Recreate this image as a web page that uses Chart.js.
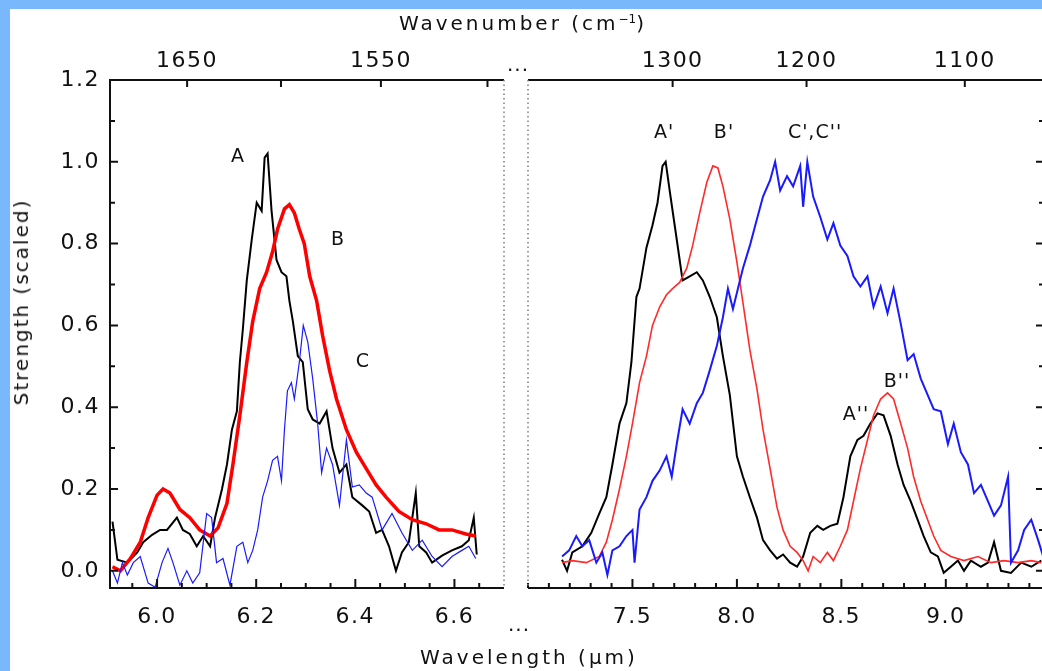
<!DOCTYPE html>
<html>
<head>
<meta charset="utf-8">
<script src="https://cdn.jsdelivr.net/npm/chart.js@4.4.1/dist/chart.umd.min.js"></script>
<style>
  html, body { margin: 0; padding: 0; }
  body {
    width: 1042px; height: 671px; overflow: hidden; position: relative;
    background: #fff; font-family: 'DejaVu Sans', sans-serif; color: #111;
  }
  canvas { position: absolute; top: 0; }
  #leftChart { left: 0; }
  #rightChart { left: 516px; }
  .band { position: absolute; background: #79b9fb; z-index: 5; }
  .txt {
    position: absolute; white-space: nowrap; line-height: 1;
    transform: translate(-50%, -50%); z-index: 4;
  }
  .title { font-size: 20px; letter-spacing: 3px; }
  .peak { font-size: 19px; letter-spacing: 1px; }
  .dots { font-size: 20px; letter-spacing: 1px; }
  sup { font-size: 12px; letter-spacing: 0; }
</style>
</head>
<body>
<canvas id="leftChart" width="516" height="671"></canvas>
<canvas id="rightChart" width="540" height="671"></canvas>

<div class="band" style="left:0;top:0;width:1042px;height:9px"></div>
<div class="band" style="left:0;top:0;width:10px;height:671px"></div>

<div class="txt title" style="left:523px;top:23px">Wavenumber (cm<sup>−1</sup>)</div>
<div class="txt title" style="left:529px;top:657px">Wavelength (μm)</div>
<div class="txt title" style="left:21px;top:302px;letter-spacing:2px;transform:translate(-50%,-50%) rotate(-90deg)">Strength (scaled)</div>
<div class="txt dots" style="left:518px;top:64px">...</div>
<div class="txt dots" style="left:519px;top:624px">...</div>

<div class="txt peak" style="left:238px;top:155px">A</div>
<div class="txt peak" style="left:338px;top:238px">B</div>
<div class="txt peak" style="left:363px;top:360px">C</div>
<div class="txt peak" style="left:664px;top:131px">A'</div>
<div class="txt peak" style="left:724px;top:131px">B'</div>
<div class="txt peak" style="left:815px;top:131px">C',C''</div>
<div class="txt peak" style="left:856px;top:413px">A''</div>
<div class="txt peak" style="left:897px;top:380px">B''</div>

<script>
// tick values
const strengthTicks = [0.0, 0.2, 0.4, 0.6, 0.8, 1.0, 1.2];
const leftWaveTicks = [6.0, 6.2, 6.4, 6.6];
const rightWaveTicks = [7.5, 8.0, 8.5, 9.0];
const leftWavenumbers = [1650, 1600, 1550, 1500];
const leftWavenumberLabels = [1650, 1550];
const rightWavenumbers = [1300, 1200, 1100];
const rightWavenumberLabels = [1300, 1200, 1100];

// [wavelength (um), strength]
const bandA = [
  [5.910, 0.12], [5.920, 0.027], [5.940, 0.02], [5.960, 0.045], [5.972, 0.07], [5.990, 0.088],
  [6.006, 0.10], [6.020, 0.10], [6.040, 0.13], [6.052, 0.10], [6.066, 0.09], [6.080, 0.06],
  [6.093, 0.085], [6.107, 0.06], [6.117, 0.13], [6.131, 0.20], [6.141, 0.26], [6.151, 0.345],
  [6.161, 0.39], [6.167, 0.51], [6.173, 0.59], [6.181, 0.71], [6.191, 0.81], [6.201, 0.90],
  [6.211, 0.88], [6.217, 1.01], [6.223, 1.02], [6.231, 0.88], [6.241, 0.76], [6.251, 0.73],
  [6.261, 0.72], [6.267, 0.66], [6.274, 0.61], [6.284, 0.525], [6.294, 0.51], [6.304, 0.395],
  [6.314, 0.37], [6.328, 0.36], [6.342, 0.39], [6.354, 0.30], [6.368, 0.24], [6.382, 0.26],
  [6.394, 0.18], [6.414, 0.16], [6.428, 0.145], [6.442, 0.093], [6.454, 0.10], [6.468, 0.06],
  [6.482, 0.0], [6.494, 0.045], [6.508, 0.07], [6.522, 0.19], [6.529, 0.06], [6.543, 0.045],
  [6.555, 0.02], [6.575, 0.037], [6.595, 0.05], [6.615, 0.06], [6.629, 0.075], [6.639, 0.13],
  [6.645, 0.04]
];
const bandB = [
  [5.910, 0.01], [5.926, 0.0], [5.946, 0.03], [5.966, 0.07], [5.982, 0.13], [6.000, 0.185],
  [6.012, 0.20], [6.026, 0.19], [6.046, 0.15], [6.066, 0.13], [6.086, 0.10], [6.107, 0.085],
  [6.123, 0.105], [6.141, 0.165], [6.153, 0.26], [6.167, 0.38], [6.181, 0.51], [6.193, 0.61],
  [6.207, 0.69], [6.221, 0.73], [6.233, 0.78], [6.243, 0.835], [6.257, 0.885], [6.267, 0.895],
  [6.277, 0.875], [6.287, 0.835], [6.297, 0.80], [6.308, 0.72], [6.322, 0.66], [6.334, 0.575],
  [6.348, 0.49], [6.362, 0.42], [6.382, 0.345], [6.402, 0.29], [6.422, 0.25], [6.442, 0.21],
  [6.462, 0.18], [6.488, 0.145], [6.515, 0.125], [6.543, 0.115], [6.569, 0.10], [6.595, 0.10],
  [6.623, 0.09], [6.643, 0.085]
];
const bandC = [
  [5.910, 0.0], [5.920, -0.03], [5.930, 0.02], [5.940, -0.01], [5.952, 0.02], [5.966, 0.035],
  [5.982, -0.03], [5.996, -0.04], [6.010, 0.02], [6.022, 0.055], [6.032, 0.02], [6.046, -0.035],
  [6.060, 0.0], [6.072, -0.03], [6.086, -0.005], [6.100, 0.14], [6.110, 0.13], [6.120, 0.02],
  [6.133, 0.03], [6.147, -0.035], [6.161, 0.06], [6.173, 0.07], [6.183, 0.02], [6.193, 0.05],
  [6.203, 0.10], [6.213, 0.18], [6.223, 0.22], [6.233, 0.27], [6.243, 0.28], [6.251, 0.22],
  [6.257, 0.345], [6.263, 0.44], [6.271, 0.46], [6.277, 0.42], [6.287, 0.51], [6.295, 0.60],
  [6.304, 0.56], [6.314, 0.47], [6.324, 0.36], [6.332, 0.24], [6.342, 0.30], [6.354, 0.26],
  [6.368, 0.16], [6.382, 0.32], [6.394, 0.205], [6.408, 0.21], [6.422, 0.19], [6.434, 0.18],
  [6.454, 0.10], [6.474, 0.14], [6.494, 0.093], [6.515, 0.05], [6.535, 0.075], [6.555, 0.035],
  [6.575, 0.01], [6.595, 0.035], [6.615, 0.05], [6.629, 0.06], [6.643, 0.03]
];
const bandA1 = [
  [7.163, 0.027], [7.187, 0.0], [7.212, 0.045], [7.260, 0.06], [7.303, 0.093], [7.341, 0.14],
  [7.375, 0.18], [7.404, 0.26], [7.438, 0.36], [7.471, 0.41], [7.495, 0.51], [7.519, 0.67],
  [7.534, 0.69], [7.567, 0.79], [7.596, 0.845], [7.620, 0.90], [7.644, 0.99], [7.659, 1.0],
  [7.678, 0.93], [7.712, 0.81], [7.740, 0.71], [7.774, 0.72], [7.808, 0.73], [7.837, 0.71],
  [7.870, 0.67], [7.904, 0.62], [7.933, 0.525], [7.966, 0.43], [8.000, 0.28], [8.029, 0.23],
  [8.062, 0.18], [8.096, 0.13], [8.125, 0.075], [8.159, 0.05], [8.192, 0.03], [8.221, 0.04],
  [8.255, 0.02], [8.288, 0.01], [8.317, 0.035], [8.351, 0.093], [8.385, 0.11], [8.413, 0.10],
  [8.447, 0.11], [8.481, 0.115], [8.510, 0.18], [8.543, 0.28], [8.577, 0.32], [8.606, 0.33],
  [8.639, 0.36], [8.673, 0.385], [8.702, 0.38], [8.736, 0.33], [8.769, 0.26], [8.798, 0.21],
  [8.832, 0.17], [8.865, 0.125], [8.894, 0.085], [8.928, 0.045], [8.962, 0.035], [8.990, -0.005],
  [9.024, 0.01], [9.058, 0.025], [9.087, 0.0], [9.120, 0.025], [9.168, 0.01], [9.202, 0.02],
  [9.231, 0.07], [9.264, 0.0], [9.312, -0.005], [9.361, 0.02], [9.409, 0.01], [9.457, 0.025]
];
const bandB1 = [
  [7.163, 0.02], [7.212, 0.025], [7.279, 0.02], [7.341, 0.035], [7.375, 0.07], [7.404, 0.125],
  [7.438, 0.20], [7.471, 0.28], [7.500, 0.36], [7.534, 0.46], [7.567, 0.525], [7.596, 0.60],
  [7.630, 0.645], [7.663, 0.675], [7.692, 0.69], [7.726, 0.705], [7.760, 0.74], [7.788, 0.795],
  [7.822, 0.875], [7.856, 0.95], [7.885, 0.99], [7.909, 0.985], [7.933, 0.94], [7.966, 0.86],
  [8.000, 0.755], [8.029, 0.655], [8.062, 0.54], [8.096, 0.445], [8.125, 0.345], [8.159, 0.25],
  [8.192, 0.155], [8.221, 0.10], [8.255, 0.06], [8.288, 0.045], [8.317, 0.025], [8.341, 0.0],
  [8.365, 0.035], [8.399, 0.02], [8.433, 0.045], [8.462, 0.025], [8.495, 0.06], [8.529, 0.10],
  [8.558, 0.17], [8.591, 0.25], [8.625, 0.32], [8.654, 0.38], [8.688, 0.42], [8.721, 0.435],
  [8.750, 0.42], [8.784, 0.36], [8.817, 0.30], [8.846, 0.23], [8.880, 0.17], [8.913, 0.125],
  [8.942, 0.085], [8.976, 0.05], [9.024, 0.035], [9.087, 0.025], [9.154, 0.035], [9.216, 0.02],
  [9.279, 0.025], [9.346, 0.02], [9.409, 0.025], [9.457, 0.02]
];
const bandC1 = [
  [7.163, 0.035], [7.197, 0.05], [7.231, 0.085], [7.260, 0.06], [7.293, 0.075], [7.327, 0.02],
  [7.356, 0.045], [7.380, -0.01], [7.404, 0.05], [7.438, 0.06], [7.471, 0.085], [7.500, 0.10],
  [7.510, 0.02], [7.534, 0.15], [7.567, 0.18], [7.596, 0.22], [7.630, 0.245], [7.663, 0.28],
  [7.688, 0.23], [7.712, 0.31], [7.740, 0.395], [7.774, 0.36], [7.808, 0.41], [7.837, 0.435],
  [7.870, 0.49], [7.904, 0.55], [7.933, 0.62], [7.957, 0.69], [7.981, 0.64], [8.005, 0.69],
  [8.029, 0.74], [8.062, 0.795], [8.096, 0.86], [8.125, 0.915], [8.159, 0.955], [8.183, 1.0],
  [8.207, 0.93], [8.240, 0.965], [8.269, 0.94], [8.303, 0.99], [8.317, 0.89], [8.337, 1.0],
  [8.365, 0.915], [8.399, 0.865], [8.433, 0.81], [8.462, 0.85], [8.495, 0.795], [8.529, 0.77],
  [8.558, 0.72], [8.591, 0.695], [8.625, 0.72], [8.654, 0.645], [8.688, 0.695], [8.721, 0.63],
  [8.750, 0.69], [8.784, 0.605], [8.817, 0.515], [8.846, 0.53], [8.880, 0.47], [8.913, 0.43],
  [8.942, 0.395], [8.976, 0.39], [9.010, 0.31], [9.038, 0.36], [9.072, 0.29], [9.106, 0.26],
  [9.135, 0.19], [9.168, 0.21], [9.202, 0.17], [9.231, 0.135], [9.264, 0.16], [9.298, 0.23],
  [9.312, 0.02], [9.346, 0.05], [9.375, 0.10], [9.409, 0.125], [9.442, 0.075], [9.466, 0.035]
];

Chart.defaults.font.family = "'DejaVu Sans', sans-serif";
Chart.defaults.font.size = 22;
Chart.defaults.color = '#111';

const toPoints = arr => arr.map(p => ({ x: p[0], y: p[1] }));

// IDL-style frame: inward tick marks, dotted side where the axis is broken
const framePlugin = {
  id: 'frame',
  beforeDraw(chart) {
    chart.ctx.letterSpacing = '1.5px';
  },
  afterDraw(chart, args, opts) {
    const ctx = chart.ctx;
    const a = chart.chartArea;
    const xs = chart.scales.x;
    const ys = chart.scales.y;
    const line = (x1, y1, x2, y2) => { ctx.moveTo(x1, y1); ctx.lineTo(x2, y2); };

    ctx.save();
    ctx.strokeStyle = '#111';
    ctx.lineWidth = 2;
    ctx.beginPath();
    line(a.left, a.top, a.right, a.top);
    line(a.left, a.bottom, a.right, a.bottom);
    if (!opts.dottedLeft) line(a.left, a.top - 1, a.left, a.bottom + 1);
    if (!opts.dottedRight) line(a.right, a.top - 1, a.right, a.bottom + 1);

    // bottom ticks
    opts.majorX.forEach(v => {
      const px = xs.getPixelForValue(v);
      line(px, a.bottom, px, a.bottom - 9);
    });
    for (let v = xs.min; v <= xs.max; v += opts.minorX) {
      const m = Math.round(v / opts.minorX) * opts.minorX;
      if (m < xs.min || m > xs.max) continue;
      const px = xs.getPixelForValue(m);
      line(px, a.bottom, px, a.bottom - 5);
    }
    // top ticks (wavenumber)
    opts.topMarks.forEach(n => {
      const px = xs.getPixelForValue(10000 / n);
      line(px, a.top, px, a.top + 7);
    });
    // strength ticks
    const sx = opts.ySide === 'left' ? a.left : a.right;
    const dir = opts.ySide === 'left' ? 1 : -1;
    for (let k = 0; k <= 12; k++) {
      const py = ys.getPixelForValue(k / 10);
      line(sx, py, sx + dir * (k % 2 === 0 ? 8 : 5), py);
    }
    ctx.stroke();

    // dotted break lines
    ctx.beginPath();
    ctx.strokeStyle = '#808080';
    ctx.lineWidth = 1.5;
    ctx.setLineDash([1.5, 3]);
    if (opts.dottedLeft) line(a.left, a.top, a.left, a.bottom);
    if (opts.dottedRight) line(a.right, a.top, a.right, a.bottom);
    ctx.stroke();
    ctx.restore();
  }
};

function panelOptions(cfg) {
  return {
    responsive: false,
    animation: false,
    events: [],
    elements: { point: { radius: 0 }, line: { tension: 0 } },
    layout: { padding: cfg.padding },
    plugins: {
      legend: { display: false },
      tooltip: { enabled: false },
      frame: cfg.frame
    },
    scales: {
      x: {
        type: 'linear',
        position: 'bottom',
        min: cfg.min,
        max: cfg.max,
        grid: { display: false, drawTicks: false },
        border: { display: false },
        ticks: { padding: 16, maxRotation: 0, minRotation: 0, autoSkip: false, callback: v => v.toFixed(1) },
        afterBuildTicks: s => { s.ticks = cfg.waveTicks.map(v => ({ value: v })); },
        afterFit: s => { s.height = 83; }
      },
      x2: {
        type: 'linear',
        position: 'top',
        min: cfg.min,
        max: cfg.max,
        grid: { display: false, drawTicks: false },
        border: { display: false },
        ticks: {
          padding: 6, maxRotation: 0, minRotation: 0, autoSkip: false,
          callback: (v, i) => cfg.numberLabels.includes(cfg.numbers[i]) ? String(cfg.numbers[i]) : ''
        },
        afterBuildTicks: s => { s.ticks = cfg.numbers.map(n => ({ value: 10000 / n })); },
        afterFit: s => { s.height = 80; }
      },
      y: {
        type: 'linear',
        position: 'left',
        display: cfg.showY,
        min: -0.042,
        max: 1.2,
        grid: { display: false, drawTicks: false },
        border: { display: false },
        ticks: { padding: 10, callback: v => v.toFixed(1) },
        afterBuildTicks: s => { s.ticks = strengthTicks.map(v => ({ value: v })); },
        afterFit: s => { s.width = cfg.showY ? 110 : 0; }
      }
    }
  };
}

new Chart(document.getElementById('leftChart'), {
  type: 'line',
  data: {
    datasets: [
      { data: toPoints(bandC), borderColor: '#1a1aff', borderWidth: 1.2 },
      { data: toPoints(bandB), borderColor: '#ff0000', borderWidth: 3.5 },
      { data: toPoints(bandA), borderColor: '#000000', borderWidth: 2 }
    ]
  },
  options: panelOptions({
    min: 5.905, max: 6.70,
    padding: { left: 0, right: 12, top: 0, bottom: 0 },
    waveTicks: leftWaveTicks,
    numbers: leftWavenumbers,
    numberLabels: leftWavenumberLabels,
    showY: true,
    frame: { dottedRight: true, majorX: leftWaveTicks, minorX: 0.05, topMarks: leftWavenumbers, ySide: 'left' }
  }),
  plugins: [framePlugin]
});

new Chart(document.getElementById('rightChart'), {
  type: 'line',
  data: {
    datasets: [
      { data: toPoints(bandC1), borderColor: '#1a1aff', borderWidth: 2 },
      { data: toPoints(bandB1), borderColor: '#ff2a2a', borderWidth: 1.6 },
      { data: toPoints(bandA1), borderColor: '#000000', borderWidth: 2 }
    ]
  },
  options: panelOptions({
    min: 7.0, max: 9.47,
    padding: { left: 12, right: 12, top: 0, bottom: 0 },
    waveTicks: rightWaveTicks,
    numbers: rightWavenumbers,
    numberLabels: rightWavenumberLabels,
    showY: false,
    frame: { dottedLeft: true, majorX: rightWaveTicks, minorX: 0.1, topMarks: rightWavenumbers, ySide: 'right' }
  }),
  plugins: [framePlugin]
});
</script>
</body>
</html>
